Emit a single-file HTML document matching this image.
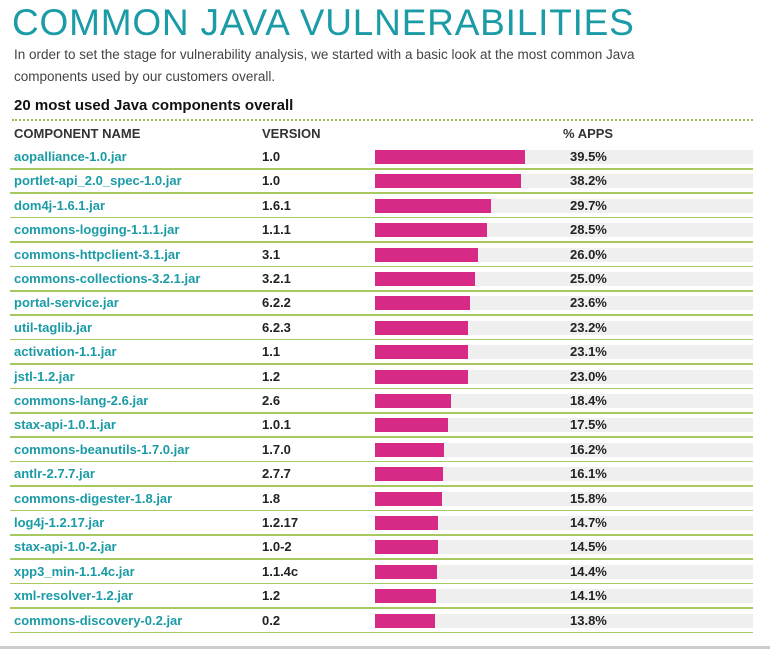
<!DOCTYPE html>
<html><head><meta charset="utf-8"><style>
body{margin:0;width:770px;height:651px;background:#fff;overflow:hidden;font-family:"Liberation Sans",sans-serif;position:relative}
.t{position:absolute;white-space:nowrap}
</style></head><body>
<div class="t" style="left:12px;top:2px;font-size:37px;color:#1a9ba6;letter-spacing:0.8px;font-weight:normal">COMMON JAVA VULNERABILITIES</div>
<div class="t" style="left:14px;top:44px;font-size:13.5px;color:#444;line-height:22px">In order to set the stage for vulnerability analysis, we started with a basic look at the most common Java<br>components used by our customers overall.</div>
<div class="t" style="left:14px;top:97px;font-size:15px;font-weight:bold;color:#111">20 most used Java components overall</div>
<div style="position:absolute;left:12px;top:119px;width:741px;border-top:2px dotted #9cc24a"></div>
<div class="t" style="left:14px;top:126px;font-size:13px;font-weight:bold;color:#333">COMPONENT NAME</div>
<div class="t" style="left:262px;top:126px;font-size:13px;font-weight:bold;color:#333">VERSION</div>
<div class="t" style="left:563px;top:126px;font-size:13px;font-weight:bold;color:#333">% APPS</div>
<div id="rows"></div>
<div style="position:absolute;left:0;top:646px;width:770px;height:3px;background:#ccc"></div>
<script>
const names=["aopalliance-1.0.jar","portlet-api_2.0_spec-1.0.jar","dom4j-1.6.1.jar","commons-logging-1.1.1.jar","commons-httpclient-3.1.jar","commons-collections-3.2.1.jar","portal-service.jar","util-taglib.jar","activation-1.1.jar","jstl-1.2.jar","commons-lang-2.6.jar","stax-api-1.0.1.jar","commons-beanutils-1.7.0.jar","antlr-2.7.7.jar","commons-digester-1.8.jar","log4j-1.2.17.jar","stax-api-1.0-2.jar","xpp3_min-1.1.4c.jar","xml-resolver-1.2.jar","commons-discovery-0.2.jar"];
const versions=["1.0","1.0","1.6.1","1.1.1","3.1","3.2.1","6.2.2","6.2.3","1.1","1.2","2.6","1.0.1","1.7.0","2.7.7","1.8","1.2.17","1.0-2","1.1.4c","1.2","0.2"];
const values=[39.5,38.2,29.7,28.5,26.0,25.0,23.6,23.2,23.1,23.0,18.4,17.5,16.2,16.1,15.8,14.7,14.5,14.4,14.1,13.8];
const x0=375, barW=v=>12+3.5*v, rowY=i=>145+i*24.4;
const c=document.getElementById('rows');
names.forEach((n,i)=>{
  const y=rowY(i);
  const bg=document.createElement('div');
  
  
  bg.style.cssText=`position:absolute;left:${x0}px;top:${y+5}px;width:378px;height:14px;background:#efefef`;
  c.appendChild(bg);
  const b=document.createElement('div');
  
  
  b.style.cssText=`position:absolute;left:${x0}px;top:${y+5}px;width:${barW(values[i])}px;height:14px;background:#d62a86`;
  c.appendChild(b);
  const t=document.createElement('div');
  
  
  t.className='t';t.textContent=n;
  t.style.cssText=`left:14px;top:${y+4}px;font-size:13px;font-weight:bold;color:#1a9ba6`;
  c.appendChild(t);
  const v=document.createElement('div');
  
  
  v.className='t';v.textContent=versions[i];
  v.style.cssText=`left:262px;top:${y+4}px;font-size:13px;font-weight:bold;color:#222`;
  c.appendChild(v);
  const p=document.createElement('div');
  
  
  p.className='t';p.textContent=values[i].toFixed(1)+'%';
  p.style.cssText=`left:570px;top:${y+4}px;font-size:13px;font-weight:bold;color:#222`;
  c.appendChild(p);
  const l=document.createElement('div');
  
  
  l.style.cssText=`position:absolute;left:10px;top:${y+23}px;width:743px;height:1.5px;background:#a8c860`;
  c.appendChild(l);
});
</script>
</body></html>
